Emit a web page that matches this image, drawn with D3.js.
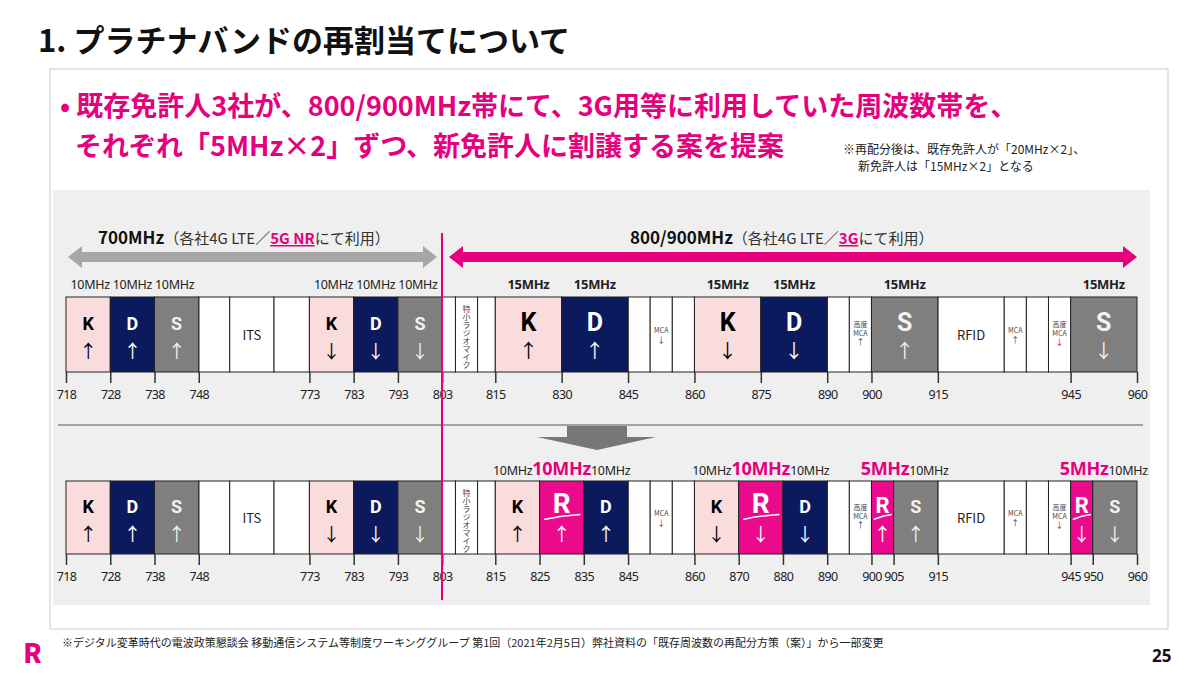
<!DOCTYPE html>
<html><head><meta charset="utf-8">
<script src="https://cdn.jsdelivr.net/npm/d3@7/dist/d3.min.js"></script>
<style>body{margin:0;background:#fff;font-family:"Noto Sans CJK JP","Noto Sans",sans-serif}</style>
</head><body><svg id="c" width="1200" height="675"></svg>
<script>
const tickTop = [718,728,738,748,773,783,793,803,815,830,845,860,875,890,900,915,945,960];
const tickBottom = [718,728,738,748,773,783,793,803,815,825,835,845,860,870,880,890,900,905,915,945,950,960];
// [start, end, operator, text, direction]
const common = [
 [748,755,"W","",""],[755,765,"W","ITS",""],[765,773,"W","",""],
 [803,806,"W","",""],[806,811,"W","特小ラジオマイク",""],[811,815,"W","",""],
 [845,850,"W","",""],[850,855,"W","MCA","↓"],[855,860,"W","",""],
 [890,895,"W","",""],[895,900,"W","高度MCA","↑"],
 [915,930,"W","RFID",""],[930,935,"W","MCA","↑"],[935,940,"W","",""],[940,945,"W","高度MCA","↓"],
 [718,728,"K","K","↑"],[728,738,"D","D","↑"],[738,748,"S","S","↑"],
 [773,783,"K","K","↓"],[783,793,"D","D","↓"],[793,803,"S","S","↓"]];
const topBlocks = common.concat([
 [815,830,"K","K","↑"],[830,845,"D","D","↑"],[860,875,"K","K","↓"],[875,890,"D","D","↓"],
 [900,915,"S","S","↑"],[945,960,"S","S","↓"]]);
const bottomBlocks = common.concat([
 [815,825,"K","K","↑"],[825,835,"R","R","↑"],[835,845,"D","D","↑"],
 [860,870,"K","K","↓"],[870,880,"R","R","↓"],[880,890,"D","D","↓"],
 [900,905,"R","R","↑"],[905,915,"S","S","↑"],[945,950,"R","R","↓"],[950,960,"S","S","↓"]]);
const bwTop = [[718,748,["10MHz","10MHz","10MHz"],0],[773,803,["10MHz","10MHz","10MHz"],0],
 [815,830,["15MHz"],1],[830,845,["15MHz"],1],[860,875,["15MHz"],1],[875,890,["15MHz"],1],[900,915,["15MHz"],1],[945,960,["15MHz"],1]];
const bwBottom = [[815,845,["10MHz","10MHz","10MHz"],1],[860,890,["10MHz","10MHz","10MHz"],1],
 [900,915,["5MHz","10MHz"],0],[945,960,["5MHz","10MHz"],0]];

const MAG="#e6007e";
const fill={K:"#fbdcdc",D:"#0b1a5c",S:"#7f7f7f",R:"#ec0a8c",W:"#fff"};
const txt={K:"#000",D:"#fff",S:"#f2f2f2",R:"#fff",W:"#333"};
const svg=d3.select("#c");
const x=d3.scaleLinear().domain([718,960]).range([66,1137]);

svg.append("text").attr("x",38).attr("y",52).attr("font-size",31).attr("font-weight",700).attr("fill","#111").text("1. プラチナバンドの再割当てについて");
svg.append("rect").attr("x",50).attr("y",69).attr("width",1118).attr("height",560).attr("fill","#fff").attr("stroke","#ccc");
svg.append("text").attr("x",60).attr("y",116).attr("font-size",27).attr("font-weight",700).attr("fill",MAG).text("• 既存免許人3社が、800/900MHz帯にて、3G用等に利用していた周波数帯を、");
svg.append("text").attr("x",75).attr("y",156).attr("font-size",27).attr("font-weight",700).attr("fill",MAG).text("それぞれ「5MHz×2」ずつ、新免許人に割譲する案を提案");
svg.append("text").attr("x",843).attr("y",154).attr("font-size",12).attr("fill","#222").text("※再配分後は、既存免許人が「20MHz×2」、");
svg.append("text").attr("x",858).attr("y",171).attr("font-size",12).attr("fill","#222").text("新免許人は「15MHz×2」となる");

svg.append("rect").attr("x",53).attr("y",190).attr("width",1097).attr("height",415).attr("fill","#efefef");

function hArrow(x1,x2,y,c){
  const h=5,ah=11,al=14;
  const p=[[x1+al,y-h],[x2-al,y-h],[x2-al,y-ah],[x2,y],[x2-al,y+ah],[x2-al,y+h],[x1+al,y+h],[x1+al,y+ah],[x1,y],[x1+al,y-ah]];
  svg.append("polygon").attr("points",p.map(d=>d.join(",")).join(" ")).attr("fill",c);
}
hArrow(68,437,257,"#a6a6a6");
hArrow(449,1137,257,MAG);
function rangeLabel(x0,main,mid,hl){
  const l=svg.append("text").attr("x",x0).attr("y",244).attr("font-size",15).attr("fill","#333");
  l.append("tspan").attr("font-weight",700).attr("font-size",17).attr("fill","#111").text(main);
  l.append("tspan").text(mid);
  l.append("tspan").attr("fill",MAG).attr("font-weight",700).attr("text-decoration","underline").text(hl);
  l.append("tspan").text("にて利用）");
}
rangeLabel(98,"700MHz","（各社4G LTE／","5G NR");
rangeLabel(630,"800/900MHz","（各社4G LTE／","3G");

function row(blocks,ticks,y0,h){
  const g=svg.append("g");
  blocks.forEach(([s,e,t,lab,dir])=>{
    const xa=x(s),w=x(e)-x(s),cx=xa+w/2;
    g.append("rect").attr("x",xa).attr("y",y0).attr("width",w).attr("height",h).attr("fill",fill[t]).attr("stroke","#222").attr("stroke-width",1);
    if(t==="W"){
      if(lab==="特小ラジオマイク"){
        g.append("text").attr("x",cx).attr("y",y0+8).attr("font-size",8).attr("fill","#444").attr("writing-mode","vertical-rl").text(lab);
      } else if(lab==="高度MCA"){
        g.append("text").attr("x",cx).attr("y",y0+h/2-8).attr("font-size",7).attr("text-anchor","middle").attr("fill","#444").text("高度");
        g.append("text").attr("x",cx).attr("y",y0+h/2+1).attr("font-size",7).attr("text-anchor","middle").attr("fill","#444").text("MCA");
        g.append("text").attr("x",cx).attr("y",y0+h/2+10).attr("font-size",8).attr("text-anchor","middle").attr("fill",dir==="↓"?"#c00":"#444").text(dir);
      } else if(lab==="MCA"){
        g.append("text").attr("x",cx).attr("y",y0+h/2-2).attr("font-size",7).attr("text-anchor","middle").attr("fill","#444").text("MCA");
        g.append("text").attr("x",cx).attr("y",y0+h/2+8).attr("font-size",8).attr("text-anchor","middle").attr("fill","#444").text(dir);
      } else if(lab){
        g.append("text").attr("x",cx).attr("y",y0+h/2+5).attr("font-size",13).attr("text-anchor","middle").attr("fill","#222").text(lab);
      }
    } else {
      const big=w>50;
      const fs=t==="R"?(w>30?28:22):(big?25:18);
      g.append("text").attr("x",cx).attr("y",y0+h/2-(big?4:5)).attr("font-size",fs).attr("font-weight",700).attr("text-anchor","middle").attr("fill",txt[t]).attr("font-family","Roboto,sans-serif").text(lab);
      if(t==="R") g.append("path").attr("d",`M${cx-w*0.4},${y0+h/2+2} Q${cx},${y0+h/2-2} ${cx+w*0.42},${y0+h/2-3}`).attr("stroke","#fff").attr("stroke-width",1.5).attr("fill","none");
      g.append("text").attr("x",cx).attr("y",y0+h/2+23).attr("font-size",big?19:18).attr("text-anchor","middle").attr("fill",txt[t]).text(dir);
    }
  });
  const ax=d3.axisBottom(x).tickValues(ticks).tickSize(11).tickFormat(d3.format("d"));
  const a=g.append("g").attr("transform",`translate(0,${y0+h})`).call(ax);
  a.select(".domain").remove();
  a.selectAll(".tick line").attr("stroke","#333").attr("stroke-width",1.5);
  a.selectAll(".tick text").attr("font-size",12.5).attr("fill","#222").attr("dy","1em").attr("letter-spacing","-0.6").attr("font-family","Noto Sans,sans-serif");
  return g;
}
const gTop=row(topBlocks,tickTop,297,75);
bwTop.forEach(([s,e,labs,b])=>{
  gTop.append("text").attr("x",(x(s)+x(e))/2).attr("y",289).attr("text-anchor","middle").attr("font-size",b?13:12.5)
   .attr("font-weight",b?700:400).attr("fill","#222").attr("font-family","Noto Sans,sans-serif").attr("letter-spacing","-0.3").text(labs.join(" "));
});
svg.append("line").attr("x1",58).attr("x2",1143).attr("y1",425).attr("y2",425).attr("stroke","#888").attr("stroke-width",1.5);
svg.append("polygon").attr("points","567,426 627,426 627,437 656,437 597,450 537,437 567,437").attr("fill","#777");
const gBot=row(bottomBlocks,tickBottom,481,73);
bwBottom.forEach(([s,e,labs,hi])=>{
  const t=gBot.append("text").attr("x",(x(s)+x(e))/2).attr("y",475).attr("text-anchor","middle").attr("fill","#222").attr("font-family","Noto Sans,sans-serif").attr("letter-spacing","-0.3");
  labs.forEach((l,i)=>t.append("tspan").attr("font-size",i===hi?18:12.5).attr("font-weight",i===hi?700:400).attr("fill",i===hi?MAG:"#222").text(l));
});
svg.append("line").attr("x1",442).attr("x2",442).attr("y1",233).attr("y2",600).attr("stroke",MAG).attr("stroke-width",2);

svg.append("text").attr("x",24).attr("y",663).attr("font-size",27).attr("font-weight",900).attr("fill",MAG).attr("font-family","Roboto,sans-serif").text("R");
svg.append("text").attr("x",62).attr("y",647).attr("font-size",11).attr("fill","#222").text("※デジタル変革時代の電波政策懇談会 移動通信システム等制度ワーキンググループ 第1回（2021年2月5日）弊社資料の「既存周波数の再配分方策（案）」から一部変更");
svg.append("text").attr("x",1152).attr("y",662).attr("font-size",17).attr("font-weight",700).attr("fill","#111").attr("font-family","Noto Sans,sans-serif").text("25");
</script></body></html>
